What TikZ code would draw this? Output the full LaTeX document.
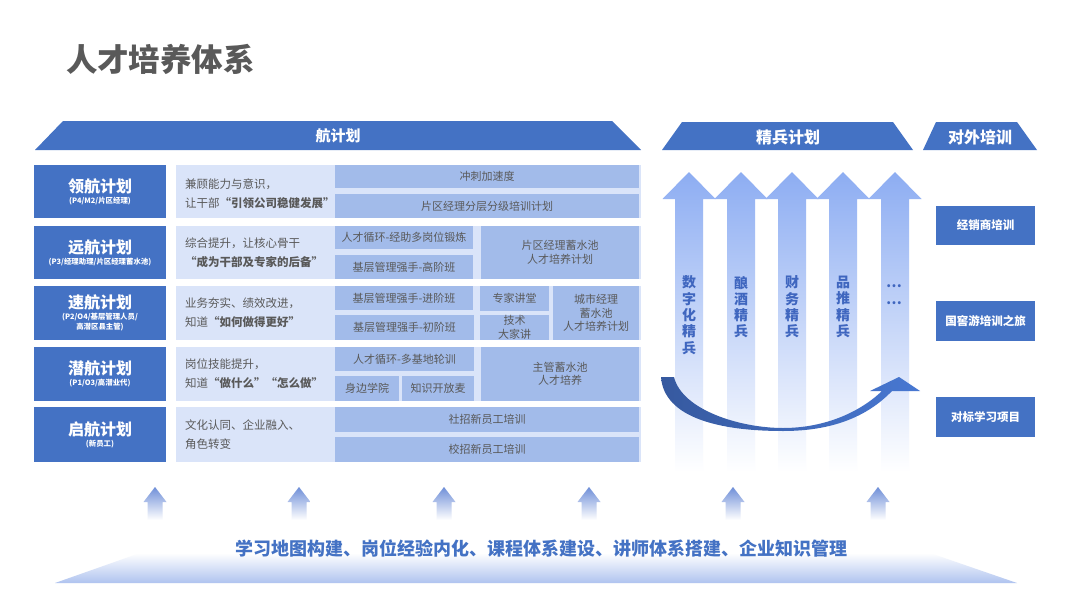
\documentclass[tikz,border=0pt]{standalone}
\usepackage{fontspec}
\setmainfont{Noto Sans CJK SC}
\definecolor{dk}{HTML}{4472C4}
\definecolor{md}{HTML}{A2BBEA}
\definecolor{lt}{HTML}{DAE4F9}
\definecolor{tg}{HTML}{595959}
\definecolor{ttl}{HTML}{595959}
\definecolor{arrtop}{HTML}{8DADF2}
\definecolor{vtc}{HTML}{3F66BF}
\definecolor{sarr}{HTML}{6F8FD8}
\definecolor{basec}{HTML}{AFC3EF}
\definecolor{swl}{HTML}{36599F}
\definecolor{swr}{HTML}{4878D2}
\newcommand\bx[7]{\node[#1, minimum width={(#5-#3)*1pt}, minimum height={(#6-#4)*1pt}] (#2) at ({(#3+#5)/2},{(#4+#6)/2}) {#7};}
\begin{document}
\begin{tikzpicture}[x=1pt,y=-1pt,
  every node/.style={inner sep=0pt, outer sep=0pt},
  darkbox/.style={fill=dk, text=white, align=center},
  midbox/.style={fill=md, text=tg, align=center, font=\fontsize{11}{13.5}\selectfont},
  ltbox/.style={fill=lt},
  sidebox/.style={fill=dk, text=white, font=\fontsize{11.5}{14}\selectfont\bfseries},
  banner/.style={fill=dk},
  bantext/.style={text=white, font=\fontsize{16}{18}\selectfont\bfseries},
  desc/.style={anchor=west, align=left, text=tg, font=\fontsize{11.5}{19}\selectfont},
  vtext/.style={anchor=north, align=center, text=vtc, font=\fontsize{14}{16.3}\selectfont\bfseries}
]
\useasboundingbox (0,0) rectangle (1080,608);
\fill[white] (0,0) rectangle (1080,608);

% title
\node[anchor=west, text=ttl, font=\fontsize{31.5}{35}\selectfont\bfseries] (title) at (66,59) {人才培养体系};

% banners
\fill[banner] (35,150) -- (63,121) -- (612,121) -- (641,150) -- cycle;
\node[bantext, font=\fontsize{15}{17}\selectfont\bfseries] (bh) at (338,136) {航计划};
\fill[banner] (662,150) -- (682,122) -- (893,122) -- (913,150) -- cycle;
\node[bantext] (bj) at (788,137) {精兵计划};
\fill[banner] (923,150) -- (936,122) -- (1017,122) -- (1037,150) -- cycle;
\node[bantext] (bd) at (980,137) {对外培训};

% light row boxes
\bx{ltbox}{l1}{176}{165}{641}{218}{}
\bx{ltbox}{l2}{176}{226}{641}{279}{}
\bx{ltbox}{l3}{176}{286}{641}{340}{}
\bx{ltbox}{l4}{176}{347}{641}{401}{}
\bx{ltbox}{l5}{176}{407}{641}{462}{}

% dark boxes
\bx{darkbox}{d1}{34}{165}{166}{218}{{\fontsize{16}{18}\selectfont\bfseries 领航计划}\\[-1pt]{\fontsize{7.4}{9}\selectfont\bfseries (P4/M2/片区经理)}}
\bx{darkbox}{d2}{34}{226}{166}{279}{{\fontsize{16}{18}\selectfont\bfseries 远航计划}\\[-1pt]{\fontsize{7.4}{9}\selectfont\bfseries (P3/经理助理/片区经理蓄水池)}}
\bx{darkbox}{d3}{34}{286}{166}{340}{{\fontsize{16}{18}\selectfont\bfseries 速航计划}\\[-1.5pt]{\fontsize{7.4}{9}\selectfont\bfseries (P2/O4/基层管理人员/}\\[-1.5pt]{\fontsize{7.4}{9}\selectfont\bfseries 高潜区县主管)}}
\bx{darkbox}{d4}{34}{347}{166}{401}{{\fontsize{16}{18}\selectfont\bfseries 潜航计划}\\[-1pt]{\fontsize{7.4}{9}\selectfont\bfseries (P1/O3/高潜业代)}}
\bx{darkbox}{d5}{34}{407}{166}{462}{{\fontsize{16}{18}\selectfont\bfseries 启航计划}\\[-1pt]{\fontsize{7.4}{9}\selectfont\bfseries (新员工)}}

% descriptions
\node[desc] (t1) at (185,193.5) {兼顾能力与意识，\\让干部\textbf{“引领公司稳健发展”}};
\node[desc] (t2) at (185,252.5) {综合提升，让核心骨干\\\textbf{“成为干部及专家的后备”}};
\node[desc] (t3) at (185,313) {业务夯实、绩效改进，\\知道\textbf{“如何做得更好”}};
\node[desc] (t4) at (185,374) {岗位技能提升，\\知道\textbf{“做什么”“怎么做”}};
\node[desc] (t5) at (185,434.5) {文化认同、企业融入、\\角色转变};

% middle boxes
\bx{midbox}{m11}{335}{165}{639}{188}{冲刺加速度}
\bx{midbox}{m12}{335}{194}{639}{218}{片区经理分层分级培训计划}
\bx{midbox}{m21}{335}{226}{473}{249}{人才循环-经助多岗位锻炼}
\bx{midbox}{m22}{335}{255}{473}{279}{基层管理强手-高阶班}
\bx{midbox}{m23}{481}{226}{639}{279}{片区经理蓄水池\\人才培养计划}
\bx{midbox}{m31}{335}{286}{473}{310}{基层管理强手-进阶班}
\bx{midbox}{m32}{335}{315}{474}{340}{基层管理强手-初阶班}
\bx{midbox}{m33}{480}{286}{549}{311}{专家讲堂}
\bx{midbox}{m34}{480}{315}{549}{340}{技术\\大家讲}
\bx{midbox}{m35}{553}{286}{639}{340}{城市经理\\蓄水池\\人才培养计划}
\bx{midbox}{m41}{335}{347}{474}{371}{人才循环-多基地轮训}
\bx{midbox}{m42}{335}{376}{399}{401}{身边学院}
\bx{midbox}{m43}{402}{376}{474}{401}{知识开放麦}
\bx{midbox}{m44}{481}{347}{639}{401}{主管蓄水池\\人才培养}
\bx{midbox}{m51}{335}{407}{639}{432}{社招新员工培训}
\bx{midbox}{m52}{335}{437}{639}{462}{校招新员工培训}

% elite arrows
\foreach \cx in {689,741,792,843,895}{
  \shade[top color=arrtop, bottom color=white]
    (\cx-14,472) -- (\cx-14,199) -- (\cx-26.5,199) -- (\cx,172) -- (\cx+26.5,199) -- (\cx+14,199) -- (\cx+14,472) -- cycle;
}
\node[vtext] (v1) at (689,276) {数\\字\\化\\精\\兵};
\node[vtext] (v2) at (741,276) {酿\\酒\\精\\兵};
\node[vtext] (v3) at (792,276) {财\\务\\精\\兵};
\node[vtext] (v4) at (843,276) {品\\推\\精\\兵};
\node[vtext] (v5) at (894,285) {…\\…};

% swoosh arrow
\shade[left color=swl, right color=swr]
  (661,377) -- (674,377) .. controls (682,410) and (740,428) .. (783,428)
  .. controls (825,428) and (860,412) .. (882,391) -- (870,391) -- (899,377) -- (920,391) -- (892,391)
  .. controls (866,418) and (830,431) .. (783,431)
  .. controls (720,431) and (664,418) .. (661,377) -- cycle;

% side boxes
\bx{sidebox}{s1}{936}{206}{1035}{245}{经销商培训}
\bx{sidebox}{s2}{936}{301}{1035}{341}{国窖游培训之旅}
\bx{sidebox}{s3}{936}{397}{1035}{437}{对标学习项目}

% bottom small arrows
\foreach \cx in {155,299,444,589,733,878}{
  \shade[top color=sarr, bottom color=white]
    (\cx-7.5,520) -- (\cx-7.5,502) -- (\cx-11.5,502) -- (\cx,487) -- (\cx+11.5,502) -- (\cx+7.5,502) -- (\cx+7.5,520) -- cycle;
}

% base
\shade[top color=white, bottom color=basec] (55,583) -- (140,553) -- (930,553) -- (1017,583) -- cycle;
\node[text=dk, font=\fontsize{18}{20}\selectfont\bfseries] (base) at (541,549) {学习地图构建、岗位经验内化、课程体系建设、讲师体系搭建、企业知识管理};
\end{tikzpicture}
\end{document}
